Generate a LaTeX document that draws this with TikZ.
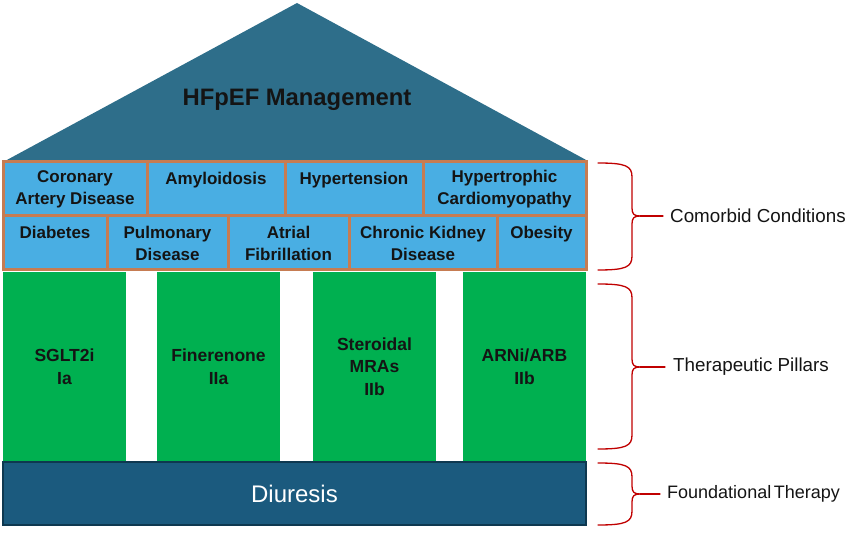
\documentclass[tikz,border=0pt]{standalone}
\usepackage{fontspec}
\setmainfont{Liberation Sans}
\definecolor{roof}{RGB}{46,110,138}
\definecolor{cellblue}{RGB}{73,174,227}
\definecolor{cellline}{RGB}{198,124,82}
\definecolor{pillar}{RGB}{0,176,80}
\definecolor{base}{RGB}{27,90,126}
\definecolor{baseline}{RGB}{14,56,80}
\definecolor{bracered}{RGB}{192,0,0}
\definecolor{ink}{RGB}{20,20,20}
\begin{document}
\begin{tikzpicture}[x=1pt,y=-1pt,
  cell/.style={draw=cellline, fill=cellblue, line width=3pt, inner sep=0pt,
    align=center, text=ink, font=\fontsize{17}{22}\selectfont\bfseries},
  pillarbox/.style={fill=pillar, inner sep=0pt, align=center, text=ink,
    font=\fontsize{17.5}{22.5}\selectfont\bfseries},
  sidelabel/.style={anchor=west, inner sep=0pt, text=ink, font=\fontsize{18.8}{22}\selectfont},
  bracepath/.style={draw=bracered, line width=1.3pt, line cap=round, line join=round}
]
\useasboundingbox (0,0) rectangle (860,540);

% roof
\coordinate (apex) at (297,3);
\coordinate (roofL) at (5,161);
\coordinate (roofR) at (588,161);
\fill[roof] (apex) -- (roofR) -- (roofL) -- cycle;
\node[text=ink, font=\fontsize{23.8}{28}\selectfont\bfseries] (title) at (297,100) {HFpEF Management};

% comorbid row 1 (y 162-216)
\node[cell, minimum width=144pt, minimum height=54pt] (cad) at (75,189) {Coronary\\Artery Disease};
\node[cell, minimum width=138pt, minimum height=54pt] (amy) at (216,189) {Amyloidosis\\\mbox{}};
\node[cell, minimum width=138pt, minimum height=54pt] (htn) at (354,189) {Hypertension\\\mbox{}};
\node[cell, minimum width=163pt, minimum height=54pt] (hcm) at (504.5,189) {Hypertrophic\\Cardiomyopathy};
% comorbid row 2 (y 216-270)
\node[cell, minimum width=104pt, minimum height=54pt] (dm) at (55,243) {Diabetes\\\mbox{}};
\node[cell, minimum width=121pt, minimum height=54pt] (pul) at (167.5,243) {Pulmonary\\Disease};
\node[cell, minimum width=121pt, minimum height=54pt] (af) at (288.5,243) {Atrial\\Fibrillation};
\node[cell, minimum width=148pt, minimum height=54pt] (ckd) at (423,243) {Chronic Kidney\\Disease};
\node[cell, minimum width=89pt, minimum height=54pt] (obe) at (541.5,243) {Obesity\\\mbox{}};

% pillars (y 272-461)
\node[pillarbox, minimum width=123pt, minimum height=189pt] (p1) at (64.5,366.5) {SGLT2i\\Ia};
\node[pillarbox, minimum width=123pt, minimum height=189pt] (p2) at (218.5,366.5) {Finerenone\\IIa};
\node[pillarbox, minimum width=123pt, minimum height=189pt] (p3) at (374.5,366.5) {Steroidal\\MRAs\\IIb};
\node[pillarbox, minimum width=123pt, minimum height=189pt] (p4) at (524.5,366.5) {ARNi/ARB\\IIb};

% foundation
\node[draw=baseline, fill=base, line width=1.5pt, minimum width=583pt, minimum height=63pt,
  inner sep=0pt, text=white, font=\fontsize{24}{28}\selectfont] (diur) at (294.5,493.5) {Diuresis};

% braces
\newcommand\bracedraw[4]{% top, bottom, middle, name of tip
  \draw[bracepath] (598,{#1}) .. controls (626,{#1}) and (632,{#1+3}) .. (632,{#1+14})
    -- (632,{#3-8}) .. controls (632,{#3-2}) and (634,{#3}) .. (640,{#3})
    .. controls (634,{#3}) and (632,{#3+2}) .. (632,{#3+8})
    -- (632,{#2-14}) .. controls (632,{#2-3}) and (626,{#2}) .. (598,{#2});
  \coordinate (#4) at (640,{#3});}

\bracedraw{163}{270}{216}{tipA}
\bracedraw{284}{449}{367}{tipB}
\bracedraw{463}{525}{494}{tipC}

\node[sidelabel] (lblA) at (670,216) {Comorbid Conditions};
\node[sidelabel] (lblB) at (673,367) {Therapeutic Pillars};
\node[sidelabel, font=\fontsize{18}{22}\selectfont] (lblC) at (667,494) {Foundational\hspace{0.15em}Therapy};

\draw[bracepath, shorten >=7pt] (tipA) -- (lblA.west);
\draw[bracepath, shorten >=8pt] (tipB) -- (lblB.west);
\draw[bracepath, shorten >=7pt] (tipC) -- (lblC.west);
\end{tikzpicture}
\end{document}
